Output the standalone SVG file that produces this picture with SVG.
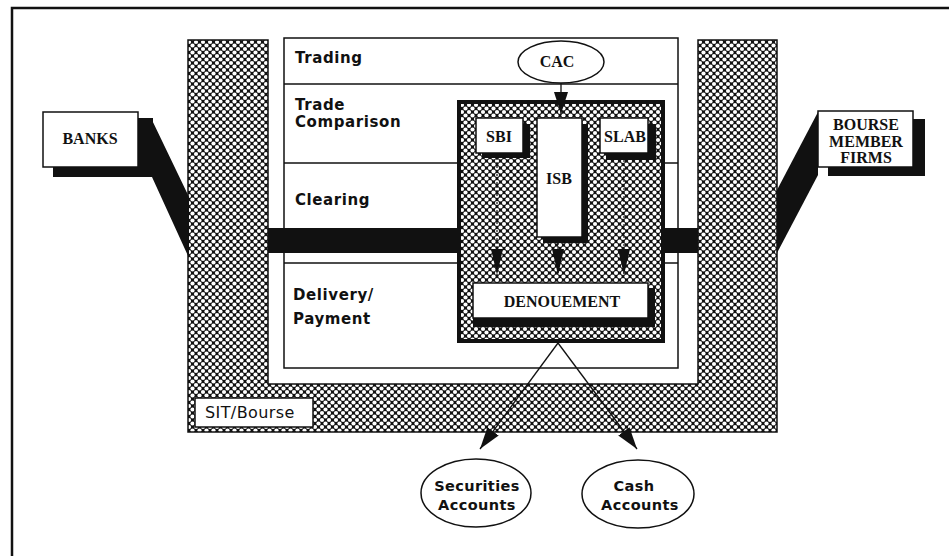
<svg xmlns="http://www.w3.org/2000/svg" width="949" height="556" viewBox="0 0 949 556">
<defs>
<pattern id="hatch" width="7" height="7" patternUnits="userSpaceOnUse">
<rect width="7" height="7" fill="#111"/>
<circle cx="0" cy="0" r="2.1" fill="#fff"/>
<circle cx="7" cy="0" r="2.1" fill="#fff"/>
<circle cx="0" cy="7" r="2.1" fill="#fff"/>
<circle cx="7" cy="7" r="2.1" fill="#fff"/>
<circle cx="3.5" cy="3.5" r="2.1" fill="#fff"/>
</pattern>
<marker id="dart" viewBox="0 0 26 12" refX="26" refY="6" markerWidth="26" markerHeight="12" markerUnits="userSpaceOnUse" orient="auto">
<path d="M0,0 L26,6 L0,12 Z" fill="#111"/>
</marker>
<marker id="head" viewBox="0 0 22 14" refX="22" refY="7" markerWidth="22" markerHeight="14" markerUnits="userSpaceOnUse" orient="auto">
<path d="M0,0 L22,7 L0,14 Z" fill="#111"/>
</marker>
</defs>
<style>
.stage{font-family:"DejaVu Sans",sans-serif;font-weight:bold;font-size:15px;fill:#111;letter-spacing:0.6px}
.lbl{font-family:"Liberation Serif",serif;font-weight:bold;font-size:16px;fill:#111;text-anchor:middle}
.acc{font-family:"DejaVu Sans",sans-serif;font-weight:bold;font-size:14.5px;fill:#111;text-anchor:middle;letter-spacing:0.4px}
.box{fill:#fff;stroke:#111;stroke-width:1.5}
.shadow{fill:#111}
.line{stroke:#111;stroke-width:1.3;fill:none}
.dash{stroke:#111;stroke-width:1.2;fill:none;stroke-dasharray:2 2}
</style>
<rect width="949" height="556" fill="#fff"/>
<path d="M12,556 V8 H949" fill="none" stroke="#111" stroke-width="2.5"/>

<g id="sit-bourse">
<path d="M188,40 H268 V384 H698 V40 H777 V432 H188 Z" fill="url(#hatch)" stroke="#111" stroke-width="1.5"/>
<rect x="195" y="398" width="118" height="29" class="box"/>
<text x="205" y="418" font-family="DejaVu Sans,sans-serif" font-size="16" fill="#111" letter-spacing="0.4">SIT/Bourse</text>
</g>

<g id="stages">
<rect x="284" y="38" width="394" height="330" class="box" stroke-width="1.2"/>
<line x1="284" y1="84" x2="678" y2="84" class="line"/>
<line x1="284" y1="163" x2="678" y2="163" class="line"/>
<line x1="284" y1="263" x2="678" y2="263" class="line"/>
<text x="295" y="63" class="stage">Trading</text>
<text x="295" y="110" class="stage">Trade</text>
<text x="295" y="127" class="stage">Comparison</text>
<text x="295" y="205" class="stage">Clearing</text>
<text x="293" y="300" class="stage">Delivery/</text>
<text x="293" y="324" class="stage">Payment</text>
</g>

<g id="settlement-box">
<rect x="459" y="102" width="204" height="239" fill="url(#hatch)" stroke="#111" stroke-width="4"/>
</g>

<g id="connectors">
<polygon points="138,118 151,118 189,197 189,258 152,177 138,177" fill="#111"/>
<polygon points="818,112 818,175 777,253 777,190" fill="#111"/>
<rect x="268" y="228" width="190" height="25" fill="#111"/>
<rect x="664" y="228" width="34" height="25" fill="#111"/>
<line x1="561" y1="83" x2="561" y2="114" class="line" marker-end="url(#head)"/>
<line x1="497" y1="158" x2="497" y2="275" class="dash" marker-end="url(#dart)"/>
<line x1="558" y1="243" x2="558" y2="275" class="dash" marker-end="url(#dart)"/>
<line x1="624" y1="160" x2="624" y2="275" class="dash" marker-end="url(#dart)"/>
<line x1="558" y1="343" x2="480" y2="449" class="line" marker-end="url(#head)"/>
<line x1="558" y1="343" x2="637" y2="449" class="line" marker-end="url(#head)"/>
</g>

<g id="banks">
<rect x="53" y="118" width="100" height="59" class="shadow"/>
<rect x="43" y="112" width="95" height="55" class="box"/>
<text x="90" y="144" class="lbl">BANKS</text>
</g>

<g id="bourse-member-firms">
<rect x="828" y="119" width="97" height="57" class="shadow"/>
<rect x="818" y="111" width="95" height="56" class="box"/>
<text x="866" y="130" class="lbl" font-size="15">BOURSE</text>
<text x="866" y="147" class="lbl" font-size="15">MEMBER</text>
<text x="866" y="163" class="lbl" font-size="15">FIRMS</text>
</g>

<g id="cac">
<ellipse cx="561" cy="62" rx="43" ry="21" class="box"/>
<text x="557" y="67" class="lbl">CAC</text>
</g>

<g id="sbi">
<rect x="482" y="124" width="48" height="34" class="shadow"/>
<rect x="476" y="118" width="47" height="35" class="box"/>
<text x="499" y="142" class="lbl">SBI</text>
</g>

<g id="isb">
<rect x="543" y="124" width="45" height="119" class="shadow"/>
<rect x="537" y="118" width="45" height="119" class="box"/>
<text x="559" y="184" class="lbl">ISB</text>
</g>

<g id="slab">
<rect x="606" y="124" width="50" height="36" class="shadow"/>
<rect x="600" y="118" width="48" height="35" class="box"/>
<text x="625" y="142" class="lbl">SLAB</text>
</g>

<g id="denouement">
<rect x="473" y="288" width="182" height="39" class="shadow"/>
<rect x="473" y="283" width="175" height="35" class="box"/>
<text x="562" y="307" class="lbl">DENOUEMENT</text>
</g>

<g id="securities-accounts">
<ellipse cx="476" cy="493" rx="55" ry="34" class="box"/>
<text x="477" y="491" class="acc">Securities</text>
<text x="477" y="510" class="acc">Accounts</text>
</g>

<g id="cash-accounts">
<ellipse cx="638" cy="494" rx="56" ry="34" class="box"/>
<text x="634" y="491" class="acc">Cash</text>
<text x="640" y="510" class="acc">Accounts</text>
</g>
</svg>
